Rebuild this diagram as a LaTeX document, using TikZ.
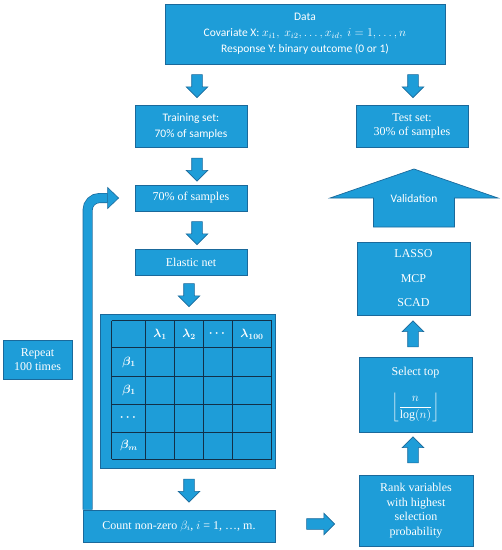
\documentclass[tikz,border=0pt]{standalone}
\usepackage{fontspec}
\setmainfont{Liberation Serif}
\newfontfamily\carlito{Carlito}
\usepackage{amsmath,bm}
\usetikzlibrary{shapes.arrows, positioning, calc, backgrounds}
\definecolor{boxblue}{RGB}{30,157,216}
\definecolor{edgeblue}{RGB}{26,105,155}
\definecolor{gridline}{RGB}{18,48,72}

\begin{document}
\begin{tikzpicture}[
    x=1pt, y=-1pt,
    box/.style={draw=edgeblue, fill=boxblue, text=white, line width=0.8pt,
                inner sep=1pt, align=center},
    sansbox/.style={box, font=\carlito\fontsize{11.5}{16}\selectfont},
    serifbox/.style={box, font=\fontsize{12}{14.5}\selectfont},
    blockarrow/.style={single arrow, draw=edgeblue, fill=boxblue,
                       line width=0.6pt, inner sep=5pt, minimum width=21pt,
                       single arrow head extend=5.5pt,
                       single arrow head indent=0pt},
    downarrow/.style={blockarrow, shape border rotate=270, minimum height=23pt},
    uparrow/.style={blockarrow, shape border rotate=90, minimum height=26pt},
    cell/.style={text=white, font=\fontsize{11.5}{13}\selectfont},
    grid/.style={draw=gridline, line width=0.7pt},
    loop/.style={draw=edgeblue, double=boxblue, double distance=8.6pt,
                 line width=0.7pt, rounded corners=12pt}
  ]
  \useasboundingbox (0,0) rectangle (502,550);

  % boxes
  \node[sansbox, minimum width=280pt, minimum height=60pt] (data) at (305,34)
    {Data\\
     Covariate X: $x_{i1},\ x_{i2}, \dots, x_{id},\ i = 1, \dots, n$\\
     Response Y: binary outcome (0 or 1)};
  \node[sansbox, minimum width=112pt, minimum height=42pt] (train) at (191,126)
    {Training set:\\70\% of samples};
  \node[serifbox, minimum width=112pt, minimum height=42pt] (test) at (412,126)
    {Test set:\\30\% of samples};
  \node[serifbox, minimum width=112pt, minimum height=26pt] (samp) at (191,198)
    {70\% of samples};
  \node[serifbox, minimum width=112pt, minimum height=26pt] (enet) at (191,262)
    {Elastic net};
  \node[box, minimum width=175pt, minimum height=154pt] (mat) at (187.5,391) {};
  \node[serifbox, minimum width=69pt, minimum height=39pt] (rep) at (37.5,359.5)
    {Repeat\\100 times};
  \node[serifbox, minimum width=192pt, minimum height=32pt] (count) at (179,526)
    {Count non-zero $\beta_i$, $i$ = 1, …, m.};

  % loop back
  \coordinate (loopstart) at ($(count.north west)+(5,0)$);
  \coordinate (looptip) at ($(samp.west)+(-16,0)$);
  \begin{pgfonlayer}{background}
    \draw[loop] (loopstart) |- ($(looptip)+(-11,0)$);
  \end{pgfonlayer}
  \filldraw[draw=edgeblue, fill=boxblue, line width=0.6pt]
    ($(looptip)+(-11,-10.5)$) -- (looptip) -- ($(looptip)+(-11,10.5)$) -- cycle;

  \node[serifbox, minimum width=114pt, minimum height=71pt] (rank) at (416,510.5)
    {Rank variables\\with highest\\selection\\probability};
  \node[serifbox, minimum width=113pt, minimum height=75pt] (select) at (415.5,394.5)
    {Select top\\[13pt]$\displaystyle\left\lfloor\frac{n}{\log(n)}\right\rfloor$};
  \node[serifbox, minimum width=113pt, minimum height=73pt] (pen) at (413.5,278.5)
    {LASSO\\[10pt]MCP\\[10pt]SCAD};

  % validation arrow
  \filldraw[draw=edgeblue, fill=boxblue, line width=0.7pt]
    (373.5,227) -- (373.5,198) -- (330,198) -- (414,169) -- (498,198)
    -- (454.5,198) -- (454.5,227) -- cycle;
  \node[text=white, font=\carlito\fontsize{11.5}{13}\selectfont] (valid) at (414,199)
    {Validation};

  % table
  \foreach \x in {111.7,145.7,174.3,203.3,232.7,271.7}
    \draw[grid] (\x,320.7) -- (\x,459);
  \foreach \y in {320.7,347.7,376,404,432.3,459}
    \draw[grid] (111.7,\y) -- (271.7,\y);
  \node[cell] (l1) at (160,334) {$\bm{\lambda_1}$};
  \node[cell] (l2) at (189,334) {$\bm{\lambda_2}$};
  \node[cell] (ld) at (218,334) {$\bm{\cdots}$};
  \node[cell] (ln) at (252,334) {$\bm{\lambda_{100}}$};
  \node[cell] (b1) at (129,362) {$\bm{\beta_1}$};
  \node[cell] (b2) at (129,390) {$\bm{\beta_1}$};
  \node[cell] (bd) at (129,418) {$\bm{\cdots}$};
  \node[cell] (bm) at (129,445.5) {$\bm{\beta_m}$};

  % block arrows
  \node[downarrow] (ar1) at (197,83.5) {};
  \node[downarrow] (ar2) at (413,83.5) {};
  \node[downarrow] (ar3) at (197,167) {};
  \node[downarrow] (ar4) at (197,230.5) {};
  \node[downarrow] (ar5) at (189,292.5) {};
  \node[downarrow] (ar6) at (189,488) {};
  \node[blockarrow, minimum height=28pt] (ar7) at (318,524) {};
  \node[uparrow] (ar8) at (413,452.5) {};
  \node[uparrow] (ar9) at (413,336.5) {};
\end{tikzpicture}
\end{document}
